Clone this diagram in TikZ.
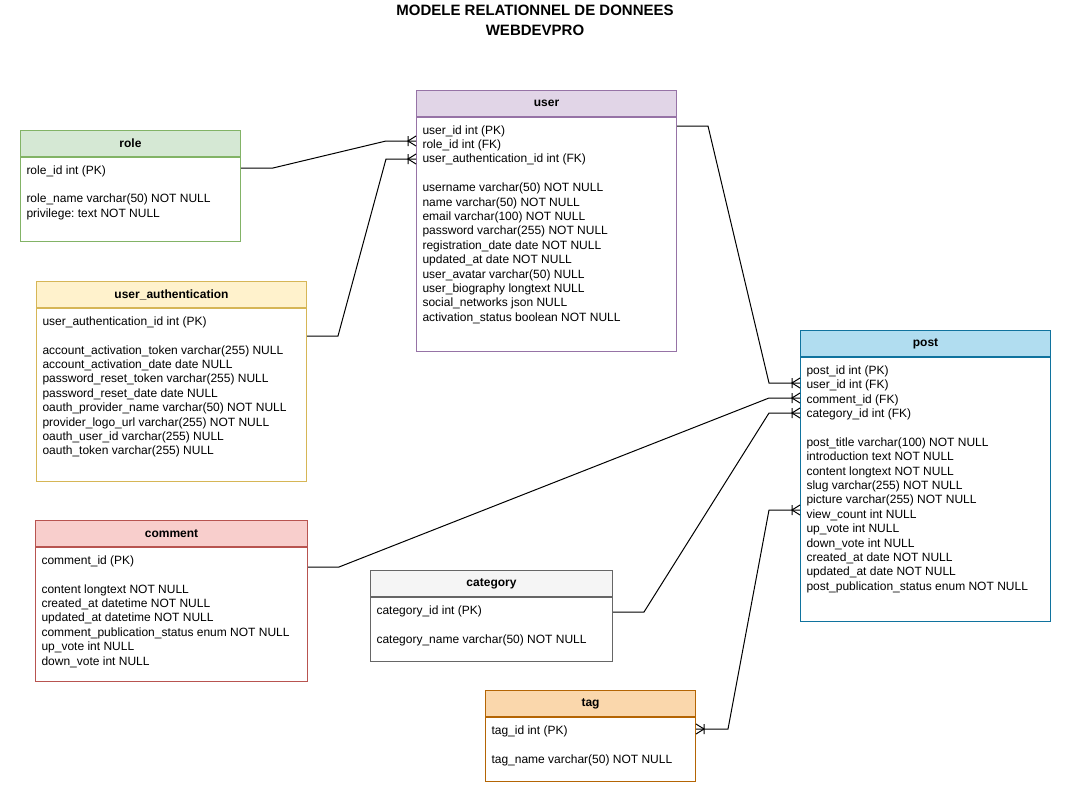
\documentclass[tikz,border=0pt]{standalone}
\usepackage{fontspec}
\setmainfont{Liberation Sans}
\usetikzlibrary{positioning}
\frenchspacing

\definecolor{rolefill}{HTML}{D5E8D4}\definecolor{roledraw}{HTML}{82B366}
\definecolor{userfill}{HTML}{E1D5E7}\definecolor{userdraw}{HTML}{9673A6}
\definecolor{authfill}{HTML}{FFF2CC}\definecolor{authdraw}{HTML}{D6B656}
\definecolor{commentfill}{HTML}{F8CECC}\definecolor{commentdraw}{HTML}{B85450}
\definecolor{categoryfill}{HTML}{F5F5F5}\definecolor{categorydraw}{HTML}{666666}
\definecolor{tagfill}{HTML}{FAD7AC}\definecolor{tagdraw}{HTML}{B46504}
\definecolor{postfill}{HTML}{B1DDF0}\definecolor{postdraw}{HTML}{10739E}

% one-or-many end
\pgfdeclarearrow{
  name = CrowFoot,
  setup code = {
    \pgfarrowssettipend{0pt}
    \pgfarrowssetlineend{0pt}
    \pgfarrowssetbackend{-8pt}
    \pgfarrowshullpoint{0pt}{5pt}
    \pgfarrowshullpoint{0pt}{-5pt}
    \pgfarrowshullpoint{-8pt}{5pt}
    \pgfarrowshullpoint{-8pt}{-5pt}
  },
  drawing code = {
    \pgfsetdash{}{0pt}
    \pgfpathmoveto{\pgfqpoint{0pt}{5pt}}
    \pgfpathlineto{\pgfqpoint{-8pt}{0pt}}
    \pgfpathlineto{\pgfqpoint{0pt}{-5pt}}
    \pgfpathmoveto{\pgfqpoint{-8pt}{5pt}}
    \pgfpathlineto{\pgfqpoint{-8pt}{-5pt}}
    \pgfusepathqstroke
  }
}

\begin{document}
\begin{tikzpicture}[x=1pt, y=-1pt, line width=1pt,
    head/.style={draw, anchor=north west, minimum height=26pt, inner sep=0pt,
      font=\bfseries\fontsize{12}{14.4}\selectfont},
    body/.style={draw, fill=white, inner sep=0pt},
    rows/.style={anchor=north west, align=left, inner xsep=6pt, inner ysep=8pt,
      font=\fontsize{12}{14.4}\selectfont, execute at begin node=\strut},
    rel/.style={draw=black, line width=1pt}]
    \useasboundingbox (0,0) rectangle (1070,784);

    \node[font=\bfseries\fontsize{15}{20}\selectfont, align=center] (title) at (535,20)
      {MODELE RELATIONNEL DE DONNEES\\WEBDEVPRO};

    % role
    \node[head, fill=rolefill, draw=roledraw, minimum width=220pt] (role) at (20,130) {role};
    \node[body, draw=roledraw, minimum width=220pt, minimum height=84pt, below=0pt of role] (role-body) {};
    \node[rows] (role-rows) at (role-body.north west) {role\_id int (PK)\\[14.4pt]
      role\_name varchar(50) NOT NULL\\privilege: text NOT NULL};

    % user
    \node[head, fill=userfill, draw=userdraw, minimum width=260pt] (user) at (416,90) {user};
    \node[body, draw=userdraw, minimum width=260pt, minimum height=234pt, below=0pt of user] (user-body) {};
    \node[rows] (user-rows) at (user-body.north west) {user\_id int (PK)\\role\_id int (FK)\\
      user\_authentication\_id int (FK)\\[14.4pt]
      username varchar(50) NOT NULL\\name varchar(50) NOT NULL\\email varchar(100) NOT NULL\\
      password varchar(255) NOT NULL\\registration\_date date NOT NULL\\updated\_at date NOT NULL\\
      user\_avatar varchar(50) NULL\\user\_biography longtext NULL\\social\_networks json NULL\\
      activation\_status boolean NOT NULL};

    % user_authentication
    \node[head, fill=authfill, draw=authdraw, minimum width=270pt] (auth) at (36,281) {user\_authentication};
    \node[body, draw=authdraw, minimum width=270pt, minimum height=173pt, below=0pt of auth] (auth-body) {};
    \node[rows] (auth-rows) at (auth-body.north west) {user\_authentication\_id int (PK)\\[14.4pt]
      account\_activation\_token varchar(255) NULL\\account\_activation\_date date NULL\\
      password\_reset\_token varchar(255) NULL\\password\_reset\_date date NULL\\
      oauth\_provider\_name varchar(50) NOT NULL\\provider\_logo\_url varchar(255) NOT NULL\\
      oauth\_user\_id varchar(255) NULL\\oauth\_token varchar(255) NULL};

    % comment
    \node[head, fill=commentfill, draw=commentdraw, minimum width=272pt] (comment) at (35,520) {comment};
    \node[body, draw=commentdraw, minimum width=272pt, minimum height=134pt, below=0pt of comment] (comment-body) {};
    \node[rows] (comment-rows) at (comment-body.north west) {comment\_id (PK)\\[14.4pt]
      content longtext NOT NULL\\created\_at datetime NOT NULL\\updated\_at datetime NOT NULL\\
      comment\_publication\_status enum NOT NULL\\up\_vote int NULL\\down\_vote int NULL};

    % category
    \node[head, fill=categoryfill, draw=categorydraw, minimum width=242pt] (category) at (370,570) {category};
    \node[body, draw=categorydraw, minimum width=242pt, minimum height=64pt, below=0pt of category] (category-body) {};
    \node[rows] (category-rows) at (category-body.north west) {category\_id int (PK)\\[14.4pt]
      category\_name varchar(50) NOT NULL};

    % tag
    \node[head, fill=tagfill, draw=tagdraw, minimum width=210pt] (tag) at (485,690) {tag};
    \node[body, draw=tagdraw, minimum width=210pt, minimum height=64pt, below=0pt of tag] (tag-body) {};
    \node[rows] (tag-rows) at (tag-body.north west) {tag\_id int (PK)\\[14.4pt]
      tag\_name varchar(50) NOT NULL};

    % post
    \node[head, fill=postfill, draw=postdraw, minimum width=250pt] (post) at (800,330) {post};
    \node[body, draw=postdraw, minimum width=250pt, minimum height=264pt, below=0pt of post] (post-body) {};
    \node[rows] (post-rows) at (post-body.north west) {post\_id int (PK)\\user\_id int (FK)\\
      comment\_id (FK)\\category\_id int (FK)\\[14.4pt]
      post\_title varchar(100) NOT NULL\\introduction text NOT NULL\\content longtext NOT NULL\\
      slug varchar(255) NOT NULL\\picture varchar(255) NOT NULL\\view\_count int NULL\\
      up\_vote int NULL\\down\_vote int NULL\\created\_at date NOT NULL\\updated\_at date NOT NULL\\
      post\_publication\_status enum NOT NULL};

    \coordinate (role-out) at ([yshift=-11pt]role-body.north east);
    \coordinate (auth-out) at ([yshift=-28pt]auth-body.north east);
    \coordinate (user-out) at ([yshift=-9pt]user-body.north east);
    \coordinate (user-role) at ([yshift=-24pt]user-body.north west);
    \coordinate (user-auth) at ([yshift=-42pt]user-body.north west);
    \coordinate (comment-out) at ([yshift=-20pt]comment-body.north east);
    \coordinate (category-out) at ([yshift=-15pt]category-body.north east);
    \coordinate (tag-end) at ([yshift=-12pt]tag-body.north east);
    \coordinate (post-user) at ([yshift=-26pt]post-body.north west);
    \coordinate (post-comment) at ([yshift=-41pt]post-body.north west);
    \coordinate (post-category) at ([yshift=-56pt]post-body.north west);
    \coordinate (post-tag) at ([yshift=-153pt]post-body.north west);

    \draw[rel, -CrowFoot] (role-out) -- ++(32,0) -- ([xshift=-30pt]user-role) -- (user-role);
    \draw[rel, -CrowFoot] (auth-out) -- ++(31,0) -- ([xshift=-30pt]user-auth) -- (user-auth);
    \draw[rel, -CrowFoot] (user-out) -- ++(31,0) -- ([xshift=-31pt]post-user) -- (post-user);
    \draw[rel, -CrowFoot] (comment-out) -- ++(31,0) -- ([xshift=-31pt]post-comment) -- (post-comment);
    \draw[rel, -CrowFoot] (category-out) -- ++(31,0) -- ([xshift=-31pt]post-category) -- (post-category);
    \draw[rel, CrowFoot-CrowFoot] (tag-end) -- ++(32,0) -- ([xshift=-31pt]post-tag) -- (post-tag);
\end{tikzpicture}
\end{document}
